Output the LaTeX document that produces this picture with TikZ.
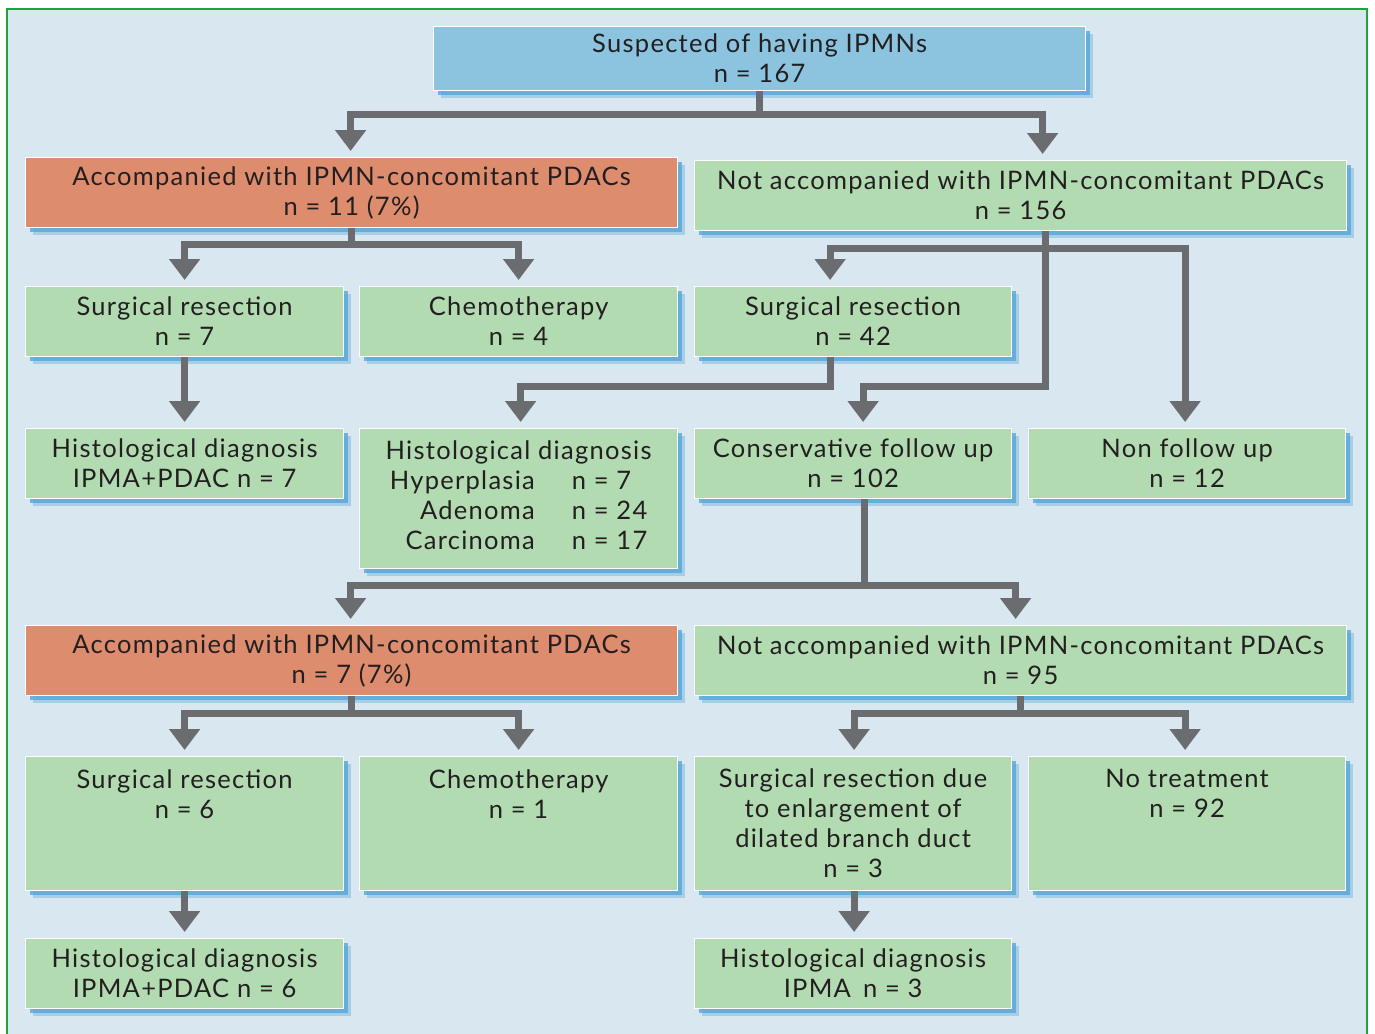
\documentclass[tikz,border=0pt]{standalone}
\usepackage{fontspec}
\setmainfont{Lato}[LetterSpace=5]
\usetikzlibrary{arrows.meta,shadows}
\definecolor{panel}{HTML}{D8E7F0}
\definecolor{framegreen}{HTML}{1FA33A}
\definecolor{boxgreen}{HTML}{B2DBB2}
\definecolor{boxorange}{HTML}{DE8C6E}
\definecolor{boxblue}{HTML}{8CC4DF}
\definecolor{shade}{HTML}{4FA2D6}
\definecolor{wire}{HTML}{6B6C6F}
\definecolor{ink}{HTML}{231F20}
\begin{document}
\begin{tikzpicture}[x=1pt,y=-1pt,
  box/.style={draw=white, line width=1.2pt, text=ink, align=center,
    inner sep=0pt, anchor=north west,
    font=\fontsize{25.5}{30}\selectfont,
    drop shadow={shadow xshift=7pt, shadow yshift=-7pt, fill=shade, opacity=0.35},
    drop shadow={shadow xshift=4pt, shadow yshift=-4pt, fill=shade, opacity=0.75}},
  gbox/.style={box, fill=boxgreen},
  obox/.style={box, fill=boxorange},
  bbox/.style={box, fill=boxblue},
  wline/.style={draw=wire, line width=7pt},
  arr/.style={wline, -{Triangle[width=30pt,length=21pt]}, shorten >=6pt}]

% canvas and frame
\useasboundingbox (0,0) rectangle (1375,1033);
\fill[white] (0,0) rectangle (1375,1033);
\filldraw[fill=panel, draw=framegreen, line width=2pt] (7,9) rectangle (1367,1045);

% level 0
\node[bbox, minimum width=652pt, minimum height=64pt] (top) at (433,26)
  {Suspected of having IPMNs\\ n = 167};

% level 1
\node[obox, minimum width=652pt, minimum height=70pt] (accA) at (25,157)
  {Accompanied with IPMN-concomitant PDACs\\ n = 11 (7\%)};
\node[gbox, minimum width=652pt, minimum height=70pt] (notA) at (694,160)
  {Not accompanied with IPMN-concomitant PDACs\\ n = 156};

% level 2
\node[gbox, minimum width=318pt, minimum height=70pt] (sA) at (25,286)
  {Surgical resection\\ n = 7};
\node[gbox, minimum width=318pt, minimum height=70pt] (cA) at (359,286)
  {Chemotherapy\\ n = 4};
\node[gbox, minimum width=317pt, minimum height=70pt] (sB) at (694,286)
  {Surgical resection\\ n = 42};

% level 3
\node[gbox, minimum width=318pt, minimum height=70pt] (hA) at (25,428)
  {Histological diagnosis\\ IPMA+PDAC n = 7};
\node[gbox, minimum width=318pt, minimum height=140pt] (hB) at (359,428)
  {\begin{tabular}{@{}r@{\hspace{37pt}}l@{}}
     \multicolumn{2}{c}{\makebox[0pt]{Histological diagnosis}}\\
     Hyperplasia & n = 7\\
     Adenoma & n = 24\\
     Carcinoma & n = 17
   \end{tabular}};
\node[gbox, minimum width=317pt, minimum height=70pt] (cons) at (694,428)
  {Conservative follow up\\ n = 102};
\node[gbox, minimum width=317pt, minimum height=70pt] (nofu) at (1028,428)
  {Non follow up\\ n = 12};

% level 4
\node[obox, minimum width=652pt, minimum height=70pt] (accB) at (25,625)
  {Accompanied with IPMN-concomitant PDACs\\ n = 7 (7\%)};
\node[gbox, minimum width=652pt, minimum height=70pt] (notB) at (694,625)
  {Not accompanied with IPMN-concomitant PDACs\\ n = 95};

% level 5
\node[gbox, minimum width=318pt, minimum height=134pt] (sC) at (25,756)
  {Surgical resection\\ n = 6\\ \mbox{}\\ \mbox{}};
\node[gbox, minimum width=318pt, minimum height=134pt] (cB) at (359,756)
  {Chemotherapy\\ n = 1\\ \mbox{}\\ \mbox{}};
\node[gbox, minimum width=317pt, minimum height=134pt] (sD) at (694,756)
  {Surgical resection due\\ to enlargement of\\ dilated branch duct\\ n = 3};
\node[gbox, minimum width=317pt, minimum height=134pt] (notr) at (1028,756)
  {No treatment\\ n = 92\\ \mbox{}\\ \mbox{}};

% level 6
\node[gbox, minimum width=318pt, minimum height=70pt] (hC) at (25,938)
  {Histological diagnosis\\ IPMA+PDAC n = 6};
\node[gbox, minimum width=317pt, minimum height=70pt] (hD) at (694,938)
  {Histological diagnosis\\ IPMA~\,n = 3};

% connectors
\draw[wline] (top.south) -- ++(0,23) coordinate (j1);
\draw[arr] (j1) -| ([xshift=-1pt]accA.north);
\draw[arr] (j1) -| ([xshift=22pt]notA.north);

\draw[wline] (accA.south) -- ++(0,16) coordinate (j2);
\draw[arr] (j2) -| (sA.north);
\draw[arr] (j2) -| (cA.north);

\path ([xshift=25pt]notA.south) ++(0,17) coordinate (j3);
\draw[arr] ([xshift=25pt]notA.south) -- ++(0,155) -| ([xshift=10pt]cons.north);
\draw[arr] (j3) -| ([xshift=-23pt]sB.north);
\draw[arr] (j3) -| ([xshift=-2pt]nofu.north);

\draw[arr] ([xshift=-23pt]sB.south) -- ++(0,29) -| ([xshift=2pt]hB.north);
\draw[arr] (sA.south) -- (hA.north);

\draw[wline] ([xshift=11pt]cons.south) -- ++(0,86) coordinate (j4);
\draw[arr] (j4) -| ([xshift=-1pt]accB.north);
\draw[arr] (j4) -| ([xshift=-5pt]notB.north);

\draw[wline] (accB.south) -- ++(0,17) coordinate (j5);
\draw[arr] (j5) -| (sC.north);
\draw[arr] (j5) -| (cB.north);

\draw[wline] (notB.south) -- ++(0,17) coordinate (j6);
\draw[arr] (j6) -| ([xshift=1pt]sD.north);
\draw[arr] (j6) -| ([xshift=-2pt]notr.north);

\draw[arr] (sC.south) -- (hC.north);
\draw[arr] ([xshift=1pt]sD.south) -- ([xshift=1pt]hD.north);
\end{tikzpicture}
\end{document}
